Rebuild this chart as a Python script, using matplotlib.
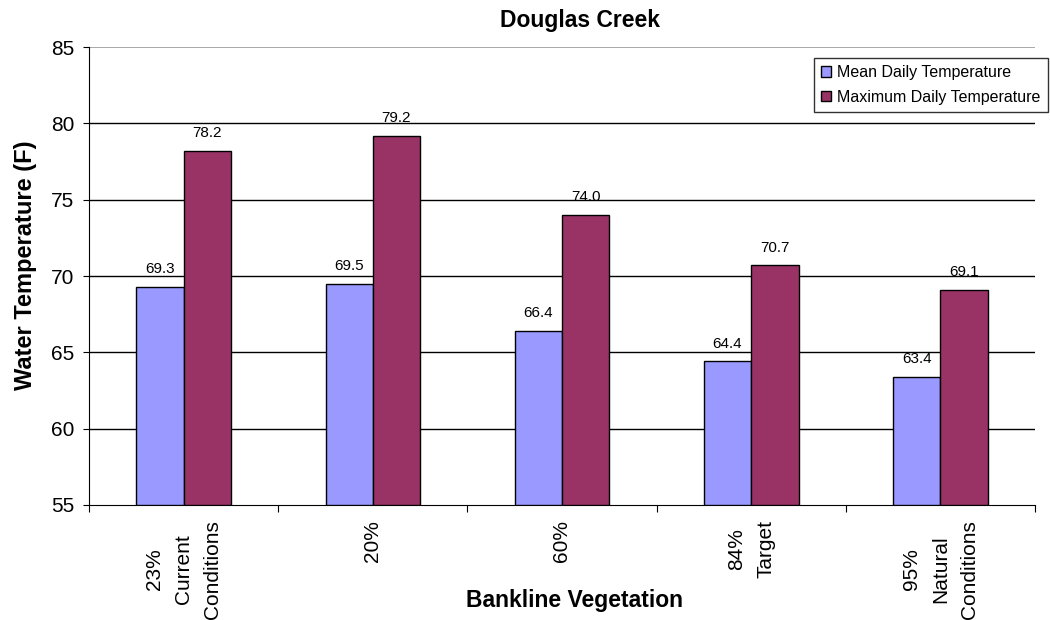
import matplotlib
matplotlib.use("Agg")
import matplotlib.pyplot as plt
import numpy as np

plt.rcParams['font.family'] = ['Liberation Sans', 'DejaVu Sans']

categories = ["23%\nCurrent\nConditions", "20%", "60%", "84%\nTarget", "95%\nNatural\nConditions"]
mean_temp = [69.3, 69.5, 66.4, 64.4, 63.4]
max_temp = [78.2, 79.2, 74.0, 70.7, 69.1]
series_names = ["Mean Daily Temperature", "Maximum Daily Temperature"]

W, H = 1050, 620
fig = plt.figure(figsize=(10.5, 6.2), dpi=100)
ax = fig.add_axes([89 / W, 1 - 505 / H, (1035 - 89) / W, (505 - 47) / H])

x = np.arange(len(categories))
w = 0.25
ax.bar(x - w/2, np.array(mean_temp) - 55, w, bottom=55, color='#9999FF', edgecolor='black', linewidth=1, zorder=3, label=series_names[0])
ax.bar(x + w/2, np.array(max_temp) - 55, w, bottom=55, color='#993366', edgecolor='black', linewidth=1, zorder=3, label=series_names[1])

for xi, v in zip(x - w/2, mean_temp):
    ax.text(xi, v + 0.7, f"{v:.1f}", ha='center', va='bottom', fontsize=11)
for xi, v in zip(x + w/2, max_temp):
    ax.text(xi, v + 0.7, f"{v:.1f}", ha='center', va='bottom', fontsize=11)

ax.set_xlim(-0.5, len(categories) - 0.5)
ax.set_ylim(55, 85)
ax.set_yticks([55, 60, 65, 70, 75, 80, 85])
ax.tick_params(axis='y', labelsize=15, direction='out', length=4.5, pad=6)
for yv in [60, 65, 70, 75, 80]:
    ax.axhline(yv, color='black', linewidth=1, zorder=1)
ax.axhline(85, color='#999999', linewidth=1.2, zorder=1)

ax.set_xticks(np.arange(-0.5, len(categories) + 0.5, 1.0))
ax.set_xticklabels([])
ax.tick_params(axis='x', direction='out', length=5)
for xi, lab in zip(x, categories):
    ax.text(xi, -0.033, lab, transform=ax.get_xaxis_transform(), rotation=90,
            ha='center', va='top', multialignment='center', fontsize=15, linespacing=1.65)

for s in ['top', 'right']:
    ax.spines[s].set_visible(False)

fig.text(580 / W, 1 - 20 / H, "Douglas Creek", ha='center', va='center', fontsize=16.5, fontweight='bold')
fig.text(26 / W, 1 - 265 / H, "Water Temperature (F)", ha='center', va='center', rotation=90, fontsize=17, fontweight='bold')
fig.text(575 / W, 1 - 600 / H, "Bankline Vegetation", ha='center', va='center', fontsize=16.5, fontweight='bold')

leg = ax.legend(loc='upper right', bbox_to_anchor=(1048 / W, 1 - 58 / H), bbox_transform=fig.transFigure,
                borderaxespad=0, fontsize=11.5, frameon=True, fancybox=False, edgecolor='black',
                handlelength=0.6, handleheight=0.6, handletextpad=0.4, borderpad=0.45, labelspacing=0.6)
leg.get_frame().set_linewidth(1)

fig.savefig("out.png", dpi=100)
